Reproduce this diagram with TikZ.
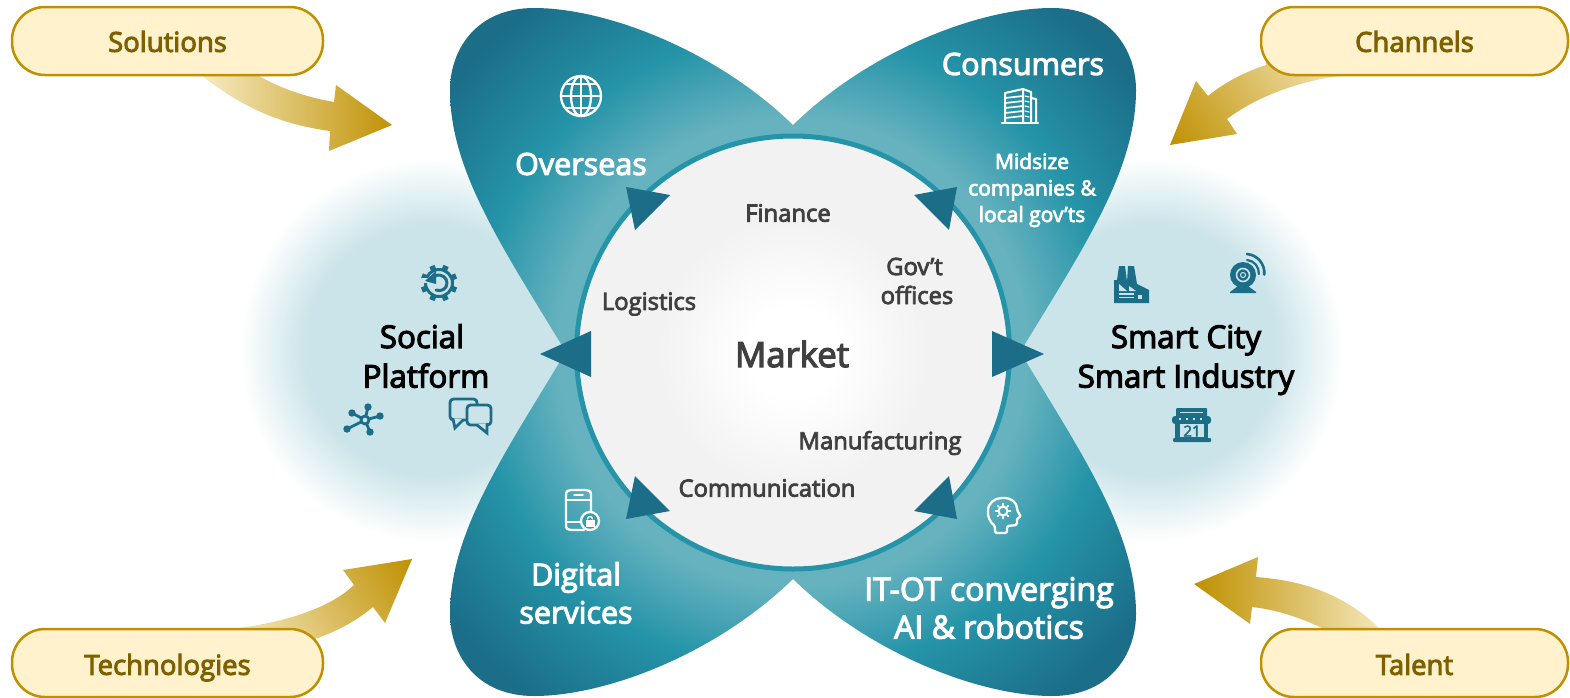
\documentclass[tikz,border=0pt]{standalone}
\usepackage{fontspec}
\setmainfont[FakeBold=3.5]{Open Sans}
\definecolor{petD}{HTML}{1B6D88}
\definecolor{petM}{HTML}{2594A8}
\definecolor{petL}{HTML}{66B2BF}
\definecolor{glowC}{HTML}{CAE4E9}
\definecolor{grayF}{HTML}{F2F2F2}
\definecolor{goldD}{HTML}{BF9000}
\definecolor{goldL}{HTML}{F8EDC8}
\definecolor{pillF}{HTML}{FFF2CC}
\definecolor{pillT}{HTML}{7F6000}
\definecolor{labelT}{HTML}{404040}
\pgfdeclareradialshading{petalgrad}{\pgfpoint{0pt}{0pt}}{color(0pt)=(petL); color(235pt)=(petL); color(320pt)=(petM); color(435pt)=(petD); color(520pt)=(petD)}
\pgfdeclarehorizontalshading{goldgrad}{400pt}{color(0pt)=(goldL); color(100pt)=(goldL); color(300pt)=(goldD); color(400pt)=(goldD)}
\pgfdeclareradialshading{glowgrad}{\pgfpoint{0pt}{0pt}}{color(0pt)=(glowC); color(125pt)=(glowC); color(192pt)=(white)}
\pgfdeclareradialshading{coregrad}{\pgfpoint{0pt}{0pt}}{color(0pt)=(white); color(45pt)=(white); color(135pt)=(grayF); color(240pt)=(grayF)}
\tikzset{
  pill/.style={draw=goldD,line width=2.5pt,fill=pillF,rounded corners=33pt,minimum height=68pt,inner sep=0pt,text=pillT,font=\fontsize{27.5}{32}\selectfont},
  pilltop/.style={pill,text height=24pt,text depth=2.4pt},
  pillbot/.style={pill,text height=25.6pt,text depth=2pt},
  bigw/.style={text=white,align=center,inner sep=0pt,font=\fontsize{30.5}{38}\selectfont},
  bigk/.style={text=black,align=center,inner sep=0pt,font=\fontsize{31.3}{39.5}\selectfont},
  lab/.style={text=labelT,align=center,inner sep=0pt,font=\fontsize{23.8}{29}\selectfont},
  smallw/.style={text=white,align=center,inner sep=0pt,font=\fontsize{21}{26.5}\selectfont},
  tri/.style={fill=petD},
  iconw/.style={draw=white,line width=2.3pt,line join=round,line cap=round},
  icond/.style={draw=petD,line width=2.8pt,line join=round,line cap=round},
  gradnode/.style={inner sep=0pt,outer sep=0pt}
}
\begin{document}
\begin{tikzpicture}[x=1pt,y=-1pt]
\useasboundingbox (0,0) rectangle (1570,697);
% glows
\node[gradnode] (glowL) at (431,350) {\pgfuseshading{glowgrad}};
\node[gradnode] (glowR) at (1152,350) {\pgfuseshading{glowgrad}};
% petals
\foreach \sx/\sy in {1/1,-1/1,1/-1,-1/-1}{
  \begin{scope}[shift={(793,352)},xscale=\sx,yscale=\sy]
    \clip (0,-227) .. controls (77,-302) and (187,-344) .. (259,-344)
       .. controls (317,-344) and (343,-302) .. (343,-262)
       .. controls (343,-182) and (292,-107) .. (229,-3) -- (0,0) -- cycle;
    \node[gradnode] at (0,0) {\pgfuseshading{petalgrad}};
  \end{scope}
}
% core circle
\begin{scope}
  \clip (793,352.5) circle (217pt);
  \node[gradnode] (coreshade) at (793,352.5) {\pgfuseshading{coregrad}};
\end{scope}
\draw[petM,line width=5pt] (793,352.5) circle (216.5pt);
% triangles
\fill[tri] (591,331) -- (591,377) -- (540,354) -- cycle;
\fill[tri] (992,331) -- (992,377) -- (1044,354) -- cycle;
\fill[tri] (626,187) -- (670,195) -- (635,230) -- cycle;
\fill[tri] (957,187) -- (914,195) -- (949,230) -- cycle;
\fill[tri] (635,476) -- (670,511) -- (626,519) -- cycle;
\fill[tri] (949,476) -- (914,511) -- (957,519) -- cycle;
% globe
\draw[iconw] (581,96) circle (20pt);
\draw[iconw] (581,96) ellipse [x radius=10pt,y radius=20pt];
\draw[iconw] (581,76) -- (581,116);
\draw[iconw] (561,96) -- (601,96);
\draw[iconw] (565,84) -- (597,84);
\draw[iconw] (565,108) -- (597,108);
% building
\draw[iconw,line width=2pt] (1005,122) -- (1005,93) -- (1023,89) -- (1023,122);
\draw[iconw,line width=2pt] (1023,89) -- (1031,92) -- (1031,122);
\draw[iconw,line width=2pt] (1031,98) -- (1036,99) -- (1036,122);
\draw[iconw,line width=2.4pt] (1002,123) -- (1038,123);
\foreach \yy in {98,103,108,113,118}{
  \draw[iconw,line width=1.7pt] (1005,\yy) -- (1023,\yy-2);
  \draw[iconw,line width=1.2pt] (1025,\yy-2) -- (1029,\yy-1);
}
% phone with lock
\draw[iconw] (566,495) .. controls (566,491) and (568,490) .. (571,490) -- (586,490) .. controls (589,490) and (591,491) .. (591,495) -- (591,513);
\draw[iconw] (566,495) -- (566,525) .. controls (566,529) and (568,530) .. (571,530) -- (584,530);
\draw[iconw] (566,500) -- (591,500);
\draw[iconw] (566,522) -- (580,522);
\draw[iconw,line width=1.8pt] (574,495) -- (583,495);
\draw[iconw,fill=petM!75!petL] (590,521) circle (9pt);
\fill[white] (585.5,519.5) rectangle (594.5,527);
\draw[iconw,line width=1.5pt] (587.5,519) arc [start angle=180,end angle=0,radius=2.5pt];
% head with gear
\draw[iconw,rounded corners=1.5pt] (995,533) -- (995,526) .. controls (990,522) and (988,517) .. (988,512)
  .. controls (988,503) and (995,498) .. (1003,498) .. controls (1012,498) and (1017,503) .. (1017,510)
  -- (1021,517) -- (1017,518) -- (1017,525) -- (1007,526) -- (1007,533) -- cycle;
\draw[iconw,line width=2pt] (1003,511) circle (4.5pt);
\foreach \a in {0,45,...,315}{\draw[iconw,line width=1.6pt] (1003,511) ++(\a:5.5pt) -- ++(\a:2pt);}
% gear icon (Social Platform)
\begin{scope}[shift={(439,283)}]
  \draw[icond,line width=3pt] (0,0) circle (13.5pt);
  \foreach \a in {0,45,...,315}{\draw[petD,line width=5.5pt] (\a+22.5:13pt) -- (\a+22.5:18.5pt);}
  \draw[glowC,line width=5pt] (-19,-3) -- (-9,-3);
  \draw[icond,line width=3pt] (-4,-7) .. controls (3,-10) and (8,-5) .. (8,0) .. controls (8,6) and (2,9) .. (-3,7);
  \fill[petD] (-14,-2) -- (-3,-12) -- (-3,1) -- cycle;
\end{scope}
% network icon
\draw[icond] (368,407) -- (365,420) (380,416) -- (365,420) (370,432) -- (365,420) (347,429) -- (365,420) (352,413) -- (365,420);
\foreach \p in {(368,407),(380,416),(370,432),(347,429),(352,413)}{\fill[petD] \p circle (3.7pt);}
\draw[icond,fill=glowC] (365,420) circle (4pt);
% chat bubbles
\draw[icond,rounded corners=3.5pt] (450,399) rectangle (477,420);
\fill[glowC] (453,419) rectangle (463,422);
\draw[icond,line join=miter] (453,419) -- (455,428) -- (463,420);
\fill[glowC] (467,405) rectangle (491,425);
\draw[icond,rounded corners=3.5pt] (467,405) rectangle (491,425);
\fill[glowC] (477,424) rectangle (488,427);
\draw[icond,line join=miter] (477,425) -- (487,433) -- (487,424);
% factory
\fill[petD] (1114,303) -- (1114,280) -- (1117,280) -- (1119,266) -- (1125,266) -- (1127,282) -- (1128,266) -- (1134,266) -- (1137,284) -- (1149,290) -- (1149,303) -- cycle;
\fill[glowC] (1119,284) -- (1127,291) -- (1119,291) -- cycle;
\fill[glowC] (1129,286) -- (1136,291) -- (1129,291) -- cycle;
\fill[glowC] (1119,293) rectangle (1134,295);
\fill[glowC] (1119,297) rectangle (1134,298);
\fill[glowC] (1138,295) rectangle (1142,299);
% webcam
\fill[petD] (1243,275) circle (13pt);
\fill[petD] (1238,286) -- (1248,286) -- (1256,292) -- (1256,293) -- (1230,293) -- (1230,292) -- cycle;
\draw[glowC,line width=1.6pt] (1243,275) circle (6.5pt);
\draw[glowC,line width=1pt] (1243,275) circle (2.5pt);
\draw[petD,line width=2.6pt,line cap=round] (1247,254) arc [start angle=85,end angle=-5,radius=19pt];
\draw[petD,line width=2.2pt,line cap=round] (1247,260) arc [start angle=85,end angle=-5,radius=13pt];
% store
\fill[petD,rounded corners=1pt] (1176,408) rectangle (1207,417);
\fill[petD,rounded corners=3pt] (1172,416) rectangle (1211,424);
\fill[petD] (1175,423) rectangle (1208,440);
\fill[petD,rounded corners=1pt] (1173,438) rectangle (1211,442);
\fill[glowC] (1180,411.5) rectangle (1203,413);
\foreach \xx in {1179,1186,1193,1200}{\fill[glowC] (\xx,418) rectangle (\xx+1.5,420);}
\fill[glowC] (1180,424) rectangle (1204,437);
\node[inner sep=0pt,text=petD,font=\fontsize{15}{15}\selectfont] (storeno) at (1192,431) {21};
% texts
\node[bigw] (overseas) at (581,164) {Overseas};
\node[bigw] (consumers) at (1023,64) {Consumers};
\node[smallw] (midsize) at (1032,190) {Midsize\\companies \&\\local gov’ts};
\node[lab] (finance) at (788,213) {Finance};
\node[lab] (logistics) at (649,304) {Logistics};
\node[lab] (govt) at (917,281) {Gov’t\hspace*{5pt}\\offices};
\node[text=labelT,inner sep=0pt,font=\fontsize{34.7}{40}\selectfont] (market) at (792,354) {Market};
\node[lab] (manuf) at (880,443) {Manufacturing};
\node[lab] (comm) at (767,488) {Communication};
\node[bigw] (digital) at (576,593) {Digital\\services};
\node[bigw,font=\fontsize{32}{38}\selectfont] (itot) at (989,608) {IT-OT converging\\AI \& robotics};
\node[bigk] (social) at (426,356) {Social\hspace*{8pt}\\Platform};
\node[bigk] (smart) at (1186,360) {Smart City\\Smart Industry};
% gold arrows
\begin{scope}
  \clip (201,70) -- (201,75) .. controls (245,110) and (285,125) .. (330,131) -- (329,151) -- (392,125) -- (336,85) -- (334,102) .. controls (305,97) and (280,88) .. (259,76) -- (259,70) -- cycle;
  \node[gradnode] at (297,100) {\pgfuseshading{goldgrad}};
\end{scope}
\begin{scope}
  \clip (1266,60) -- (1266,65) .. controls (1245,72) and (1225,82) .. (1208,96) -- (1196,81) -- (1170,145) -- (1237,134) -- (1227,119) .. controls (1255,98) and (1295,82) .. (1339,76) -- (1339,60) -- cycle;
  \node[gradnode,rotate=214] at (1253,89) {\pgfuseshading{goldgrad}};
\end{scope}
\begin{scope}
  \clip (239,635) -- (239,628) .. controls (285,622) and (330,608) .. (354,585) -- (343,570) -- (412,559) -- (385,623) -- (373,607) .. controls (355,622) and (335,632) .. (315,639) -- (315,645) -- cycle;
  \node[gradnode,rotate=32] at (327,612) {\pgfuseshading{goldgrad}};
\end{scope}
\begin{scope}
  \clip (1379,635) -- (1379,628) .. controls (1340,590) and (1295,580) .. (1256,577) -- (1258,557) -- (1194,584) -- (1250,624) -- (1252,607) .. controls (1280,610) and (1305,620) .. (1322,628) -- (1322,635) -- cycle;
  \node[gradnode,rotate=180] at (1294,584) {\pgfuseshading{goldgrad}};
\end{scope}
% pills
\node[pilltop,minimum width=311pt] (solutions) at (167.5,41) {Solutions};
\node[pilltop,minimum width=307pt] (channels) at (1414.5,41) {Channels};
\node[pillbot,minimum width=311pt] (technologies) at (167.5,663) {Technologies};
\node[pillbot,minimum width=307pt] (talent) at (1414.5,663) {Talent};
\end{tikzpicture}
\end{document}
